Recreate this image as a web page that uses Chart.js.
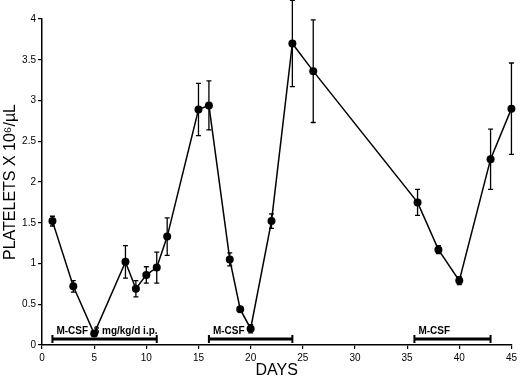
<!DOCTYPE html>
<html>
<head>
<meta charset="utf-8">
<script src="https://cdn.jsdelivr.net/npm/chart.js@4.4.1/dist/chart.umd.min.js"></script>
<style>
  html, body { margin: 0; padding: 0; background: #fff; }
  canvas { display: block; }
</style>
</head>
<body>
<canvas id="chart" width="520" height="379"></canvas>
<script>
// Platelet counts (x 10^6/uL) by day, with error bars
const days = [1, 3, 5, 8, 9, 10, 11, 12, 15, 16, 18, 19, 20, 22, 24, 26, 36, 38, 40, 43, 45];
const platelets = [1.52, 0.72, 0.14, 1.02, 0.69, 0.86, 0.95, 1.33, 2.89, 2.94, 1.05, 0.44, 0.20, 1.52, 3.70, 3.36, 1.75, 1.17, 0.79, 2.28, 2.90];
const errors = [0.06, 0.07, 0.03, 0.20, 0.10, 0.10, 0.19, 0.23, 0.32, 0.30, 0.08, 0.03, 0.05, 0.09, 0.53, 0.63, 0.16, 0.05, 0.05, 0.37, 0.56];

// M-CSF treatment periods
const treatStart = [1, 16, 35.7];
const treatEnd = [11, 24, 43];
const treatLevel = 0.075;
const treatLabels = ['M-CSF  8 mg/kg/d i.p.', 'M-CSF', 'M-CSF'];

const points = days.map((d, i) => ({ x: d, y: platelets[i] }));
const FONT = '"Liberation Sans", Arial, sans-serif';

// draws error bars and the treatment bars using the chart scales
const extrasPlugin = {
  id: 'extras',
  afterDatasetsDraw(chart) {
    const ctx = chart.ctx;
    const xs = chart.scales.x;
    const ys = chart.scales.y;
    ctx.save();
    ctx.strokeStyle = '#000';

    // error bars
    ctx.lineWidth = 1.3;
    days.forEach((d, i) => {
      const px = xs.getPixelForValue(d);
      const top = ys.getPixelForValue(platelets[i] + errors[i]);
      const bot = ys.getPixelForValue(platelets[i] - errors[i]);
      ctx.beginPath();
      ctx.moveTo(px, top); ctx.lineTo(px, bot);
      ctx.moveTo(px - 2.5, top); ctx.lineTo(px + 2.5, top);
      ctx.moveTo(px - 2.5, bot); ctx.lineTo(px + 2.5, bot);
      ctx.stroke();
    });

    // treatment bars
    const by = ys.getPixelForValue(treatLevel);
    treatStart.forEach((s, i) => {
      const x1 = xs.getPixelForValue(s);
      const x2 = xs.getPixelForValue(treatEnd[i]);
      ctx.lineWidth = 3;
      ctx.beginPath();
      ctx.moveTo(x1, by); ctx.lineTo(x2, by);
      ctx.stroke();
      ctx.lineWidth = 2;
      ctx.beginPath();
      ctx.moveTo(x1, by - 4); ctx.lineTo(x1, by + 4);
      ctx.moveTo(x2, by - 4); ctx.lineTo(x2, by + 4);
      ctx.stroke();
      ctx.fillStyle = '#000';
      ctx.font = 'bold 10px ' + FONT;
      ctx.textAlign = 'left';
      ctx.textBaseline = 'alphabetic';
      ctx.fillText(treatLabels[i], x1 + 4, by - 5);
    });
    ctx.restore();
  }
};

new Chart(document.getElementById('chart'), {
  type: 'scatter',
  data: {
    datasets: [{
      data: points,
      showLine: true,
      borderColor: '#000',
      borderWidth: 1.5,
      backgroundColor: '#000',
      pointRadius: 4,
      pointHoverRadius: 4,
      pointBackgroundColor: '#000',
      pointBorderWidth: 0,
      tension: 0
    }]
  },
  options: {
    responsive: false,
    animation: false,
    clip: false,
    layout: { padding: { top: 19, right: 5, left: 0, bottom: 0 } },
    plugins: {
      legend: { display: false },
      tooltip: { enabled: false }
    },
    scales: {
      x: {
        type: 'linear',
        min: 0,
        max: 45,
        afterFit(scale) { scale.height = 34; },
        border: { display: true, color: '#000', width: 1.5 },
        grid: { drawOnChartArea: false, drawTicks: true, tickLength: 4, color: '#000', lineWidth: 1.2 },
        ticks: {
          stepSize: 5,
          color: '#000',
          padding: 3,
          maxRotation: 0,
          font: { family: FONT, size: 10 }
        },
        title: {
          display: true,
          text: 'DAYS',
          color: '#000',
          padding: { top: 0, bottom: 0 },
          font: { family: FONT, size: 16, lineHeight: 1 }
        }
      },
      y: {
        type: 'linear',
        min: 0,
        max: 4,
        afterFit(scale) { scale.width = 42; },
        border: { display: true, color: '#000', width: 1.5 },
        grid: { drawOnChartArea: false, drawTicks: true, tickLength: 4, color: '#000', lineWidth: 1.2 },
        ticks: {
          stepSize: 0.5,
          color: '#000',
          padding: 2,
          font: { family: FONT, size: 10 },
          callback: (v) => String(+v.toFixed(1))
        },
        title: {
          display: true,
          text: 'PLATELETS X 10⁶/µL',
          color: '#000',
          padding: { top: 1, bottom: 0 },
          font: { family: FONT, size: 16, lineHeight: 1.2 }
        }
      }
    }
  },
  plugins: [extrasPlugin]
});
</script>
</body>
</html>
